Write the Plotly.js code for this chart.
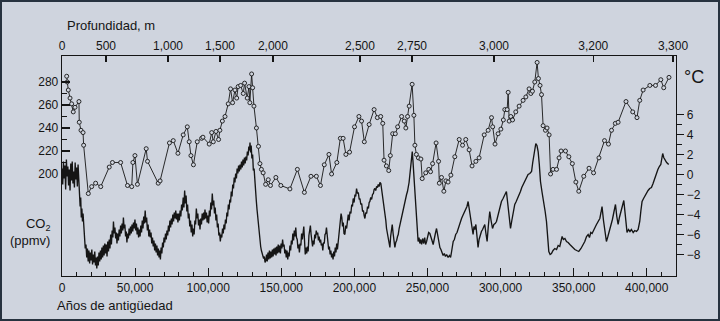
<!DOCTYPE html>
<html><head><meta charset="utf-8">
<script src="https://cdn.plot.ly/plotly-3.0.1.min.js"></script>
<style>
html,body{margin:0;padding:0;background:#cfd4de;}
#wrap{position:relative;width:720px;height:321px;}
#chart{width:720px;height:321px;}
#frame{position:absolute;left:0;top:0;width:720px;height:321px;box-sizing:border-box;border:2px solid #27323f;pointer-events:none;}
</style></head>
<body><div id="wrap"><div id="chart"></div><div id="frame"></div></div>
<script>
// CO2 (ppmv) samples: [thousand years ago, ppmv]
const co2Series = [[3.2,285],[3.6,280],[4.3,273],[5.5,266],[6.6,261],[7.7,254],[8.9,258],[11.6,263],[11.8,245],[13.0,238],[14.4,236],[14.8,225],[18.0,183],[20.3,189],[23.0,192],[26.5,189],[32.3,206],[34.5,210],[40.1,210],[44.8,190],[47.7,189],[48.5,210],[49.9,216],[51.6,191],[57.6,222],[58.5,211],[65.8,192],[67.1,194],[73.5,227],[76.1,229],[79.3,218],[82.9,234],[85.7,241],[87.0,228],[88.2,216],[89.9,208],[92.5,228],[95.5,231],[96.4,232],[100.7,226],[102.4,236],[103.5,228],[105.3,237],[107.1,230],[108.0,238],[109.7,246],[111.5,250],[113.7,261],[115.3,274],[116.7,262],[118.3,273],[119.5,266],[120.5,276],[122.2,277],[124.0,270],[124.9,279],[126.7,266],[127.9,276],[128.5,262],[129.7,287],[130.4,275],[131.3,259],[133.0,240],[134.4,224],[135.4,209],[136.4,204],[137.6,201],[139.3,191],[141.1,195],[142.6,190],[146.3,197],[149.7,190],[155.9,187],[161.0,204],[165.8,184],[170.3,198],[174.0,198],[176.8,190],[179.4,208],[182.6,217],[184.4,200],[188.0,210],[190.4,231],[192.3,231],[194.2,217],[196.7,219],[200.1,241],[203.1,250],[204.9,246],[206.8,228],[210.1,243],[213.5,256],[215.7,249],[218.0,250],[219.4,244],[220.3,212],[221.9,207],[223.5,203],[224.6,216],[226.2,235],[228.0,235],[229.6,241],[232.3,250],[234.1,246],[235.2,240],[236.4,250],[237.5,259],[239.5,278],[240.7,251],[241.4,225],[242.4,217],[243.8,214],[245.5,213],[246.4,196],[248.8,201],[250.9,204],[252.1,202],[253.5,209],[255.9,227],[257.6,211],[258.1,192],[259.6,197],[261.2,185],[262.6,194],[264.1,193],[266.0,199],[268.7,215],[271.7,230],[274.0,225],[276.2,230],[278.5,221],[280.5,207],[283.1,211],[285.3,214],[288.8,234],[291.5,238],[293.8,249],[294.6,241],[296.2,226],[298.3,235],[300.2,239],[301.9,247],[302.9,256],[304.5,256],[305.2,271],[305.9,246],[307.0,250],[308.2,247],[310.4,254],[312.7,259],[315.4,264],[317.3,267],[319.5,274],[320.7,270],[321.8,272],[323.4,280],[325.0,297],[325.9,283],[327.0,277],[328.0,269],[329.1,242],[330.7,238],[331.8,240],[333.2,234],[334.2,200],[335.9,204],[338.3,204],[340.0,214],[341.4,220],[344.4,220],[346.7,215],[349.1,209],[351.5,193],[353.5,185],[356.9,198],[360.5,205],[363.6,201],[367.3,214],[371.1,229],[373.8,226],[375.9,238],[378.5,244],[380.4,245],[385.8,263],[390.4,254],[393.3,249],[395.2,264],[397.5,273],[402.1,277],[406.0,277],[409.6,282],[411.6,275],[415.2,284]];

// Temperature anomaly (°C): [thousand years ago, °C]
const tempSeries = [[0,0.6],[0.5,-1.0],[1,1.3],[1.5,-0.4],[2,0.9],[2.5,-1.5],[3,1.5],[3.5,-0.2],[4,0.8],[4.5,-1.1],[5,0.5],[5.5,-1.6],[6,1.1],[6.5,-0.6],[7,1.3],[7.5,-0.9],[8,0.3],[8.5,-1.3],[9,1.2],[9.5,-0.5],[10,0.7],[10.5,-1.2],[11,1.0],[11.5,-0.8],
[12,-1.6],[12.4,-3.2],[12.8,-2.3],[13.2,-4.3],[13.6,-3.4],[14,-4.7],[14.4,-3.9],[14.9,-5.2],[15.4,-6.2],[15.9,-7.4],[16.4,-7.0],[16.9,-8.3],
[17.4,-7.4],[17.9,-8.7],[18.4,-7.6],[18.9,-8.9],[19.4,-7.8],[19.9,-8.6],[20.4,-7.5],[20.9,-9.0],[21.4,-8.0],[21.9,-8.8],[22.4,-7.7],[22.9,-9.1],[23.4,-8.3],[23.8,-9.4],[24.3,-8.2],[24.8,-9.1],[25.3,-7.8],[25.8,-8.7],[26.3,-7.6],[26.8,-8.5],[27.3,-7.3],[27.8,-8.3],[28.3,-7.1],[28.8,-8.1],[29.3,-6.9],[29.8,-7.9],[30.3,-7.0],[30.8,-8.2],[31.3,-6.7],[31.8,-7.7],[32.3,-6.5],[32.8,-7.4],[33.3,-6.0],[33.8,-7.0],
[34.3,-5.6],[34.8,-6.3],[35.2,-4.7],[35.7,-5.9],[36.2,-5.3],[36.7,-6.4],[37.2,-5.8],[37.6,-6.9],[38.1,-5.9],[38.6,-6.6],[39.1,-5.5],[39.6,-6.2],[40.1,-5.1],[40.6,-5.9],[41.1,-4.9],[41.6,-5.6],[42.0,-4.3],[42.5,-5.4],[43.0,-5.0],[43.5,-6.2],[44.0,-5.7],[44.4,-6.8],[44.9,-5.9],[45.4,-6.4],[45.9,-5.4],[46.4,-6.1],[46.9,-5.2],[47.4,-5.9],[47.9,-5.0],[48.4,-5.7],[48.9,-4.8],[49.4,-5.4],[49.9,-4.5],[50.4,-5.6],[50.9,-4.9],[51.4,-6.0],[51.9,-5.3],[52.4,-6.3],[52.9,-5.5],[53.4,-6.2],[53.9,-5.1],[54.4,-5.8],[54.9,-4.6],[55.4,-5.4],[55.9,-4.2],[56.4,-4.9],[56.9,-3.6],[57.4,-4.8],[57.9,-4.3],[58.4,-5.6],[58.9,-5.0],[59.4,-6.2],[59.9,-5.5],[60.4,-6.3],[60.9,-5.8],[61.4,-6.9],[61.9,-6.3],[62.4,-7.2],[62.9,-6.6],[63.4,-7.6],[63.9,-6.9],[64.4,-7.8],[64.9,-7.1],[65.4,-8.1],[65.9,-7.4],[66.4,-8.3],[66.9,-7.6],[67.3,-8.5],[67.8,-7.3],[68.3,-7.9],[68.8,-6.8],[69.3,-7.3],[69.8,-6.3],[70.3,-6.8],[70.8,-5.9],[71.3,-6.5],[71.8,-5.6],[72.3,-6.1],[72.8,-5.1],[73.3,-5.7],[73.8,-4.6],[74.3,-5.3],[74.8,-4.4],[75.3,-5.0],[75.8,-4.0],[76.3,-4.7],[76.8,-3.8],[77.3,-4.4],[77.8,-3.6],[78.3,-4.5],[78.8,-3.9],[79.3,-4.8],[79.8,-3.9],[80.3,-4.6],[80.8,-3.6],[81.3,-4.2],[81.8,-3.0],[82.3,-3.6],[82.9,-2.3],
[83.4,-3.3],[83.9,-1.6],[84.4,-2.9],[84.9,-2.1],[85.4,-3.7],[85.9,-3.0],[86.4,-4.4],[86.9,-3.9],[87.4,-5.2],[87.9,-4.6],[88.4,-5.8],[88.9,-5.0],[89.4,-6.2],[89.9,-5.4],[90.4,-6.0],[90.9,-4.6],[91.4,-5.0],[91.9,-3.4],[92.4,-4.4],[92.9,-3.9],[93.4,-5.1],[93.9,-4.5],[94.4,-5.5],[94.9,-4.4],[95.4,-5.0],[95.9,-3.9],[96.4,-4.6],[96.9,-3.8],[97.4,-4.5],[97.8,-3.5],[98.3,-4.4],[98.8,-3.8],[99.3,-4.8],[99.8,-4.1],[100.3,-4.9],[100.8,-3.6],[101.3,-4.2],[101.8,-2.8],[102.3,-3.5],[102.8,-1.9],[103.3,-3.1],[103.8,-2.6],[104.3,-3.9],[104.8,-3.3],[105.3,-4.6],[105.8,-4.0],[106.3,-5.3],[106.8,-4.9],[107.3,-6.1],[107.8,-5.8],[108.3,-6.7],[108.8,-6.0],[109.3,-6.3],[109.8,-5.4],[110.3,-5.9],[110.8,-5.0],[111.3,-5.5],[111.8,-4.5],[112.3,-4.9],[112.8,-3.8],[113.3,-4.2],[113.8,-3.0],[114.3,-3.5],[114.8,-2.5],
[115.3,-2.8],[115.8,-1.7],[116.3,-2.2],[116.8,-1.0],[117.3,-1.4],[117.8,-0.3],[118.3,-0.8],[118.8,0.1],[119.3,-0.4],[119.8,0.6],[120.3,0.1],[120.8,0.9],[121.3,0.3],[121.8,1.0],[122.3,0.5],[122.8,1.3],[123.3,0.7],[123.8,1.5],[124.3,0.9],[124.8,1.7],[125.3,1.1],[125.8,1.8],[126.3,1.4],[126.8,2.3],[127.3,1.9],[127.8,2.8],[128.3,2.4],[128.6,3.2],[129.0,2.2],[129.4,2.9],[129.9,1.6],[130.4,2.0],[130.9,0.4],[131.4,0.6],[131.9,-0.8],[132.4,-1.5],[132.9,-2.6],[133.4,-3.5],[133.9,-4.4],[134.4,-5.2],[134.9,-6.1],[135.4,-6.8],[135.9,-7.2],[136.4,-7.6],[136.9,-7.9],[137.4,-8.1],[137.9,-8.4],[138.4,-8.2],[138.9,-8.8],[139.4,-8.6],
[139.9,-8.0],[140.4,-8.7],[140.9,-7.8],[141.4,-8.5],[141.9,-7.6],[142.4,-8.4],[142.9,-7.7],[143.4,-8.3],[143.9,-7.5],[144.4,-8.2],[144.9,-7.4],[145.4,-8.0],[145.9,-7.3],[146.4,-8.1],[146.9,-7.2],[147.4,-7.9],[147.9,-7.0],[148.4,-7.8],[148.9,-7.1],[149.4,-7.9],[149.9,-6.9],[150.4,-7.4],[150.9,-6.5],[151.4,-7.2],[151.9,-7.0],[152.4,-7.9],[152.9,-7.5],[153.4,-8.3],[153.9,-7.6],[154.4,-8.5],[154.9,-7.8],[155.4,-8.2],[155.9,-7.1],[156.4,-7.6],[156.9,-6.6],[157.4,-7.0],[157.9,-5.9],[158.4,-6.6],[158.9,-5.6],[159.4,-6.2],[159.9,-5.3],[160.4,-6.3],[160.9,-6.5],[161.4,-7.4],[161.9,-7.0],[162.4,-7.8],[162.9,-6.9],[163.4,-7.1],[163.9,-5.9],[164.4,-6.5],[164.9,-5.5],[165.4,-5.2],[165.9,-6.6],[166.4,-8.0],[166.9,-7.3],[167.4,-7.9],[167.9,-7.2],[168.4,-7.7],[168.9,-6.1],[169.4,-5.6],[169.9,-5.1],[170.4,-6.0],[170.9,-6.4],[171.4,-7.2],[171.9,-6.6],[172.4,-7.0],[172.9,-6.0],[173.4,-6.4],[173.9,-5.6],[174.4,-6.0],[174.9,-5.8],[175.4,-6.6],[175.9,-6.2],[176.4,-6.8],[176.9,-6.5],[177.4,-7.1],[177.9,-6.9],[178.4,-7.6],[178.9,-6.8],[179.4,-6.9],[179.9,-6.0],[180.4,-5.9],[180.9,-5.3],[181.4,-6.1],[181.9,-6.5],[182.4,-7.5],[182.9,-7.2],[183.4,-8.0],[183.9,-7.6],[184.4,-8.3],[184.9,-7.9],[185.4,-8.5],[185.9,-7.7],[186.4,-8.2],[186.9,-7.3],[187.4,-7.8],[187.9,-6.9],[188.4,-7.5],[188.9,-6.8],[189.4,-6.0],[189.9,-5.2],[190.4,-4.6],[190.9,-3.9],[191.4,-4.3],
[191.9,-5.2],[192.4,-4.8],[192.9,-5.9],[193.5,-6.0],[194.1,-5.1],[194.7,-5.4],[195.3,-4.3],[195.8,-4.0],[196.4,-4.6],[197.0,-3.7],[197.6,-3.9],[198.2,-3.0],[198.7,-3.2],[199.2,-2.4],[199.8,-2.8],[200.4,-2.0],[200.9,-2.2],[201.5,-1.4],[202.1,-1.9],[202.7,-1.8],[203.3,-2.5],[203.8,-2.4],[204.4,-3.0],[205.0,-2.9],[205.6,-3.7],[206.2,-3.6],[206.7,-4.1],[207.2,-4.4],[207.8,-3.8],[208.4,-3.9],[209.0,-3.2],[209.6,-3.4],[210.1,-2.8],[210.6,-2.7],[211.2,-2.3],[211.8,-2.5],[212.4,-2.0],[213.0,-1.9],[213.5,-1.5],[214.0,-1.4],[214.6,-1.6],[215.2,-1.2],[215.8,-1.3],[216.3,-1.0],[216.9,-1.2],[217.5,-0.8],[218.1,-0.9],[218.7,-1.5],[219.2,-1.9],[219.7,-2.4],[220.3,-3.1],[220.9,-3.9],[221.5,-4.6],[222.0,-5.4],[222.6,-6.0],[223.2,-6.6],[223.8,-7.0],[224.3,-7.3],[224.8,-6.2],[225.4,-5.4],[225.9,-5.0],[226.5,-5.9],[227.1,-6.8],[227.7,-7.3],[228.3,-6.8],[228.9,-6.6],[229.5,-6.2],[230.0,-6.0],[230.6,-5.4],[231.2,-5.0],[231.8,-4.5],[232.3,-4.0],[232.9,-3.7],[233.5,-3.2],[234.0,-3.0],[234.5,-2.7],[235.1,-2.3],[235.7,-2.0],[236.3,-1.7],[236.8,-1.4],[237.4,-0.8],[237.9,-0.1],[238.4,0.6],[238.9,1.3],[239.3,1.9],[239.6,2.3],[240.0,1.5],[240.4,0.6],[240.9,-0.3],[241.5,-1.6],[242.0,-2.7],[242.5,-3.7],[243.0,-5.0],[243.6,-6.7],[244.2,-6.3],[244.8,-6.9],[245.4,-6.5],[246.0,-7.0],[246.7,-6.4],[247.4,-6.9],[248.1,-6.3],[248.7,-7.0],[249.4,-6.7],[250.1,-6.1],[250.8,-5.8],[251.6,-5.9],[252.3,-6.4],[253.1,-6.6],[253.9,-7.0],[254.6,-6.3],[255.4,-5.9],[256.2,-5.4],[256.9,-6.0],[257.6,-6.7],[258.5,-7.3],[259.2,-7.5],[260.0,-7.9],[260.7,-8.1],[261.5,-7.9],[262.3,-8.2],[263.1,-8.0],[264.1,-8.3],[265.0,-8.1],[265.8,-8.3],[266.5,-7.7],[267.0,-7.0],[267.6,-6.7],[268.4,-6.5],[269.3,-6.0],[270.2,-5.8],[271.0,-5.4],[271.8,-5.0],[272.5,-4.8],[273.3,-4.4],[274.2,-4.1],[275.2,-3.8],[276.2,-3.4],[277.0,-3.2],[277.8,-2.7],[278.5,-3.3],[279.3,-4.0],[280.1,-4.7],[280.7,-5.4],[281.2,-6.0],[281.8,-5.2],[282.4,-5.5],[283.1,-5.0],[283.8,-5.9],[284.6,-7.3],[285.3,-6.5],[286.1,-6.0],[286.9,-5.7],[287.7,-5.5],[288.4,-5.2],[289.2,-5.0],[289.9,-5.8],[290.8,-6.7],[291.6,-5.2],[292.6,-3.7],[293.5,-4.6],[294.5,-5.4],[295.4,-5.0],[296.3,-4.9],[297.2,-4.7],[298.3,-4.0],[299.4,-3.4],[300.6,-2.7],[301.7,-2.4],[302.9,-2.0],[304.0,-1.7],[304.6,-2.5],[305.2,-3.4],[306.0,-4.5],[306.8,-5.4],[307.7,-4.6],[308.7,-3.8],[309.7,-3.0],[310.7,-2.7],[311.7,-2.4],[312.7,-2.0],[313.6,-1.7],[314.5,-1.3],[315.4,-1.0],[316.5,-0.7],[317.6,-0.4],[318.8,0.0],[320.0,0.1],[321.2,0.3],[322.0,1.2],[322.7,2.0],[323.4,2.7],[324.1,3.1],[324.9,2.9],[325.7,2.3],[326.5,1.0],[327.3,-0.7],[328.4,-1.8],[329.6,-2.7],[330.5,-3.7],[331.4,-4.7],[332.2,-6.2],[333.0,-7.7],[333.9,-8.0],[334.8,-7.9],[335.9,-7.6],[337.1,-7.4],[338.3,-7.5],[339.4,-7.1],[340.5,-7.2],[341.3,-6.8],[342.1,-6.2],[343.0,-6.5],[344.0,-6.4],[345.1,-6.7],[346.2,-6.8],[347.4,-7.0],[349.1,-7.3],[350.8,-7.5],[352.1,-7.6],[353.5,-7.7],[355.0,-7.4],[356.5,-7.0],[357.6,-6.7],[358.8,-6.2],[359.9,-6.0],[360.8,-6.3],[361.7,-5.8],[362.6,-5.9],[363.6,-5.5],[364.6,-5.3],[365.6,-5.0],[366.8,-4.7],[367.9,-4.4],[368.7,-3.8],[369.4,-3.2],[370.4,-4.6],[371.4,-5.9],[372.4,-6.7],[373.4,-6.2],[374.4,-5.7],[375.4,-5.2],[376.5,-4.5],[377.6,-3.7],[378.6,-3.0],[379.5,-4.2],[380.4,-5.0],[381.3,-4.3],[382.2,-3.7],[383.3,-3.1],[384.3,-2.6],[385.4,-4.2],[386.5,-5.8],[387.5,-5.5],[388.5,-5.7],[389.5,-5.5],[390.7,-5.8],[391.8,-5.6],[393.0,-5.7],[394.1,-5.5],[395.2,-4.7],[396.0,-3.6],[396.8,-2.7],[397.8,-2.4],[398.8,-2.1],[399.8,-1.8],[400.9,-1.6],[402.0,-1.4],[403.2,-1.3],[404.3,-0.9],[405.5,-0.4],[406.6,0.2],[407.6,0.5],[408.6,0.8],[409.6,1.0],[410.3,1.6],[410.9,2.1],[411.6,1.7],[412.3,1.5],[413.6,1.2],[415.0,1.0]];

// Top axis: depth (m) labels and the age (years) at which each depth falls
const depthLabels = ['0','500','1,000','1,500','2,000','2,500','2,750','3,000','3,200','3,300'];
const depthTickYears = [0,30100,72500,108100,144300,203800,239400,295500,363400,418000];

const co2TickVals = [200,220,240,260,280];
const co2MinorVals = [210,230,250,270];
const tempTickVals = [-8,-6,-4,-2,0,2,4,6];
const tempMinorVals = [-7,-5,-3,-1,1,3,5];

const INK = '#151515';
const BG = '#cfd4de';
const FONT = 'Liberation Sans, Arial, sans-serif';

const co2Trace = {
  x: co2Series.map(p => p[0]*1000), y: co2Series.map(p => p[1]),
  xaxis: 'x', yaxis: 'y', type: 'scatter', mode: 'lines+markers',
  line: {color: INK, width: 0.9},
  marker: {symbol: 'circle', size: 4, color: BG, line: {color: INK, width: 0.9}},
  hoverinfo: 'skip'
};
const tempTrace = {
  x: tempSeries.map(p => p[0]*1000), y: tempSeries.map(p => p[1]),
  xaxis: 'x2', yaxis: 'y2', type: 'scatter', mode: 'lines',
  line: {color: INK, width: 1.35},
  hoverinfo: 'skip'
};

const XR = [0, 420000];
const layout = {
  width: 720, height: 321,
  margin: {l: 62, r: 44, t: 56, b: 45, pad: 0},
  paper_bgcolor: BG, plot_bgcolor: BG,
  showlegend: false,
  font: {family: FONT, size: 12, color: INK},
  xaxis: {
    range: XR, showgrid: false, zeroline: false,
    showline: true, linecolor: INK, linewidth: 1.3,
    tickmode: 'linear', tick0: 0, dtick: 50000, tickformat: ',d',
    ticks: 'inside', ticklen: 8, tickwidth: 1.2, tickcolor: INK,
    minor: {dtick: 10000, tick0: 0, ticks: 'inside', ticklen: 4, tickwidth: 1, tickcolor: INK},
    tickfont: {family: FONT, size: 12, color: INK}
  },
  xaxis2: {
    range: XR, overlaying: 'x', side: 'top', anchor: 'y2',
    showgrid: false, zeroline: false,
    showline: true, linecolor: INK, linewidth: 1.3,
    tickmode: 'array', tickvals: depthTickYears, ticktext: depthLabels,
    ticks: 'inside', ticklen: 6, tickwidth: 1.2, tickcolor: INK,
    tickfont: {family: FONT, size: 12, color: INK}
  },
  yaxis: {
    range: [111.3, 302.6], showgrid: false, zeroline: false,
    showline: true, linecolor: INK, linewidth: 1.3,
    tickmode: 'array', tickvals: co2TickVals,
    ticks: 'inside', ticklen: 8, tickwidth: 1.2, tickcolor: INK,
    minor: {tickmode: 'array', tickvals: co2MinorVals, ticks: 'inside', ticklen: 5, tickwidth: 1, tickcolor: INK},
    tickfont: {family: FONT, size: 12, color: INK}
  },
  yaxis2: {
    range: [-10.15, 11.85], overlaying: 'y', side: 'right', anchor: 'x2',
    showgrid: false, zeroline: false,
    showline: true, linecolor: INK, linewidth: 1.3,
    tickmode: 'array', tickvals: tempTickVals,
    ticks: 'outside', ticklen: 7, tickwidth: 1.2, tickcolor: INK,
    minor: {tickmode: 'array', tickvals: tempMinorVals, ticks: 'outside', ticklen: 5, tickwidth: 1, tickcolor: INK},
    tickfont: {family: FONT, size: 12, color: INK}
  },
  annotations: [
    {text: 'Profundidad, m', xref: 'paper', yref: 'paper', x: 0.005, y: 1.14, xanchor: 'left', yanchor: 'middle', showarrow: false, font: {family: FONT, size: 13, color: INK}},
    {text: 'Años de antigüedad', xref: 'paper', yref: 'paper', x: -0.011, y: -0.132, xanchor: 'left', yanchor: 'middle', showarrow: false, font: {family: FONT, size: 13, color: INK}},
    {text: 'CO<sub>2</sub><br>(ppmv)', xref: 'paper', yref: 'paper', x: -0.016, y: 0.2, xanchor: 'right', yanchor: 'middle', align: 'right', showarrow: false, font: {family: FONT, size: 13, color: INK}},
    {text: '°C', xref: 'paper', yref: 'paper', x: 1.01, y: 0.905, xanchor: 'left', yanchor: 'middle', showarrow: false, font: {family: FONT, size: 18, color: INK}}
  ]
};

Plotly.newPlot('chart', [co2Trace, tempTrace], layout, {staticPlot: true, displayModeBar: false});
</script>
</body></html>
